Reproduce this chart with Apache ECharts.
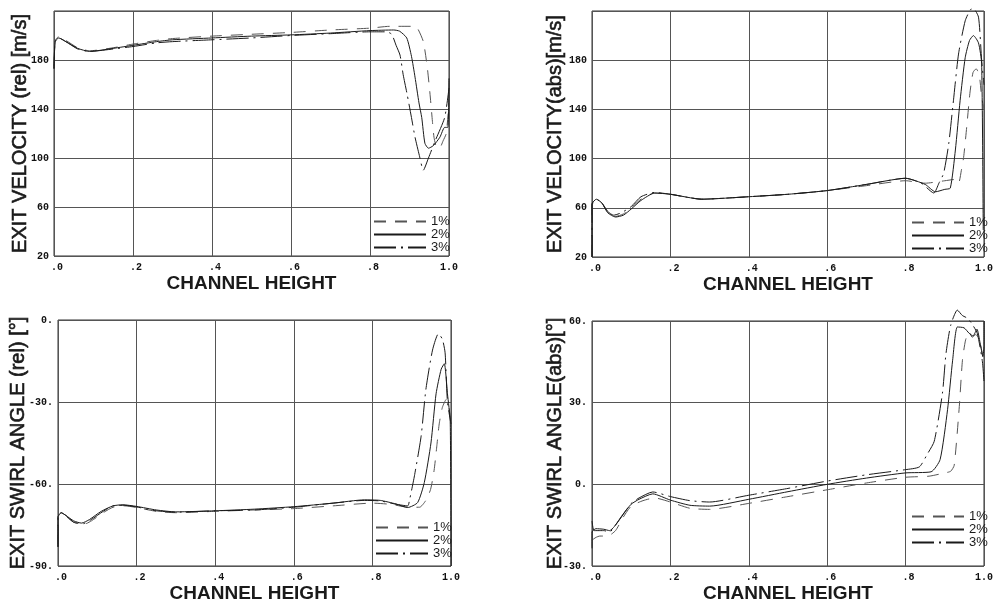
<!DOCTYPE html>
<html>
<head>
<meta charset="utf-8">
<script src="https://cdn.jsdelivr.net/npm/echarts@6/dist/echarts.min.js"></script>
<style>
html,body{margin:0;padding:0;background:#fff;}
#chart{width:996px;height:604px;}
</style>
</head>
<body>
<div id="chart"></div>
<script>
// ---------- tick labels ----------
const xTickValues = [0, 0.2, 0.4, 0.6, 0.8, 1.0];
const xTickLabels = ['.0', '.2', '.4', '.6', '.8', '1.0'];
const velTickValues = [20, 60, 100, 140, 180];
const velTickLabels = ['20', '60', '100', '140', '180'];
const relAngTickValues = [-90, -60, -30, 0];
const relAngTickLabels = ['-90.', '-60.', '-30.', '0.'];
const absAngTickValues = [-30, 0, 30, 60];
const absAngTickLabels = ['-30.', '0.', '30.', '60.'];

const seriesNames = ['1%', '2%', '3%'];
const xAxisTitle = 'CHANNEL HEIGHT';
const yAxisTitles = ['EXIT VELOCITY (rel) [m/s]', 'EXIT VELOCITY(abs)[m/s]', 'EXIT SWIRL ANGLE (rel) [°]', 'EXIT SWIRL ANGLE(abs)[°]'];

// ---------- panel 1: exit velocity (rel) ----------
const velRelX1 = [0, 0.003, 0.012, 0.03, 0.06, 0.09, 0.15, 0.2, 0.26, 0.3, 0.4, 0.5, 0.6, 0.7, 0.8, 0.85, 0.91, 0.92, 0.935, 0.945, 0.952, 0.958, 0.962, 0.968, 0.976, 0.985, 0.993, 1.0];
const velRelY1 = [173, 196, 199, 196, 190, 187.5, 190, 193, 196, 197.5, 199.5, 201, 202.5, 204.5, 206, 207.5, 207.5, 206, 195, 174, 152, 130, 117, 109, 108, 114, 120, 145];
const velRelX2 = [0, 0.003, 0.012, 0.03, 0.06, 0.09, 0.15, 0.2, 0.26, 0.3, 0.4, 0.5, 0.6, 0.7, 0.8, 0.86, 0.875, 0.893, 0.905, 0.914, 0.924, 0.931, 0.939, 0.948, 0.96, 0.977, 0.989, 0.997, 1.0];
const velRelY2 = [173, 195, 198, 195, 189.5, 187, 189.5, 192, 195, 196.5, 198, 199.5, 200.5, 202, 204, 204.5, 203.5, 198, 183, 166, 145, 133, 112, 108, 110, 117, 125, 125, 165];
const velRelX3 = [0, 0.003, 0.012, 0.03, 0.06, 0.09, 0.15, 0.2, 0.26, 0.3, 0.4, 0.5, 0.6, 0.7, 0.8, 0.842, 0.855, 0.866, 0.876, 0.884, 0.894, 0.905, 0.914, 0.925, 0.935, 0.948, 0.965, 0.989, 1.0];
const velRelY3 = [173, 195, 198, 195, 189, 187, 189, 191, 194, 195, 196.5, 198, 200, 201.5, 203, 203, 201, 192, 184, 168, 152, 133, 117, 102, 90, 100, 114, 133, 157];

// ---------- panel 2: exit velocity (abs) ----------
const velAbsX1 = [0, 0, 0.011, 0.025, 0.04, 0.06, 0.08, 0.1, 0.125, 0.16, 0.2, 0.28, 0.4, 0.5, 0.6, 0.7, 0.8, 0.85, 0.9, 0.925, 0.935, 0.942, 0.948, 0.956, 0.964, 0.972, 0.98, 0.988, 0.994, 1.0];
const velAbsY1 = [20, 62, 66.5, 64, 57, 53, 55, 60, 67, 72, 71, 67, 69, 71, 74, 78, 82, 80, 82, 83, 80, 90, 101, 126, 153, 170, 173, 168, 150, 140];
const velAbsX2 = [0, 0, 0.011, 0.025, 0.04, 0.06, 0.08, 0.1, 0.125, 0.16, 0.2, 0.28, 0.4, 0.5, 0.6, 0.7, 0.8, 0.85, 0.876, 0.9, 0.914, 0.927, 0.939, 0.952, 0.963, 0.973, 0.986, 0.994, 0.998];
const velAbsY2 = [20, 63, 67, 64, 56, 52.5, 54, 59, 66, 72, 71, 67, 69, 71, 74, 79, 84, 79, 73, 75, 76, 107, 147, 182, 196, 200, 194, 177, 42];
const velAbsX3 = [0, 0, 0.011, 0.025, 0.04, 0.055, 0.075, 0.1, 0.125, 0.16, 0.2, 0.28, 0.4, 0.5, 0.6, 0.7, 0.8, 0.84, 0.872, 0.885, 0.897, 0.91, 0.922, 0.935, 0.952, 0.965, 0.973, 0.986, 0.994, 1.0];
const velAbsY3 = [20, 63, 67, 64, 57, 54, 56, 61, 69, 72.5, 71, 67, 69, 71, 74, 79, 84, 80, 72, 80, 88, 112, 147, 185, 212, 221, 222, 215, 180, 160];

// ---------- panel 3: exit swirl angle (rel) ----------
const angRelX1 = [0, 0, 0.008, 0.02, 0.04, 0.065, 0.085, 0.115, 0.14, 0.17, 0.2, 0.25, 0.3, 0.4, 0.5, 0.6, 0.7, 0.8, 0.85, 0.89, 0.92, 0.936, 0.948, 0.957, 0.964, 0.97, 0.978, 0.988, 0.996, 1.0];
const angRelY1 = [-83, -72, -70.8, -71.8, -74, -74.8, -73.5, -70.5, -68.5, -68, -68.6, -70, -70.5, -70, -69.5, -69, -68, -67, -67.5, -68.5, -68.5, -66, -62, -55, -46, -38, -32, -29, -33, -38];
const angRelX2 = [0, 0, 0.008, 0.02, 0.04, 0.06, 0.08, 0.11, 0.14, 0.165, 0.2, 0.25, 0.3, 0.4, 0.5, 0.6, 0.7, 0.78, 0.82, 0.86, 0.89, 0.915, 0.932, 0.949, 0.962, 0.975, 0.983, 0.991, 0.998, 1.0];
const angRelY2 = [-83, -72, -70.5, -71.5, -73.5, -74.3, -73, -70, -68, -67.6, -68.2, -69.5, -70.2, -69.8, -69.2, -68.3, -67, -65.8, -66, -67.3, -68.6, -66.8, -59.5, -45, -27, -18, -16, -27, -37, -90];
const angRelX3 = [0, 0, 0.008, 0.02, 0.04, 0.065, 0.085, 0.115, 0.14, 0.17, 0.2, 0.25, 0.3, 0.4, 0.5, 0.6, 0.7, 0.78, 0.82, 0.86, 0.89, 0.894, 0.907, 0.924, 0.936, 0.953, 0.968, 0.978, 0.985, 0.991, 1.0];
const angRelY3 = [-83, -72, -70.5, -71.5, -74, -74.5, -73, -70, -68, -67.8, -68.4, -69.8, -70.3, -69.8, -69.5, -68.5, -67, -66, -66.2, -67.4, -68, -66.2, -57, -42.5, -25.5, -11, -5, -7, -12, -30, -38];

// ---------- panel 4: exit swirl angle (abs) ----------
const angAbsX1 = [0, 0.01, 0.02, 0.04, 0.06, 0.08, 0.1, 0.13, 0.16, 0.2, 0.25, 0.3, 0.4, 0.5, 0.6, 0.7, 0.8, 0.86, 0.9, 0.915, 0.924, 0.937, 0.945, 0.953, 0.962, 0.97, 0.978, 0.986, 0.993, 1.0];
const angAbsY1 = [-20.5, -19.5, -19, -19, -17, -12, -8, -6, -5, -6.5, -8.8, -9.2, -7, -4.5, -2, 0.5, 2.6, 3, 4.2, 4.8, 7, 28.6, 45.6, 53, 56, 54, 55, 54, 50, 45];
const angAbsX2 = [0, 0, 0.01, 0.03, 0.045, 0.057, 0.079, 0.1, 0.12, 0.155, 0.2, 0.25, 0.3, 0.4, 0.5, 0.6, 0.7, 0.8, 0.865, 0.888, 0.907, 0.92, 0.932, 0.949, 0.962, 0.972, 0.982, 0.99, 0.997, 1.0, 1.0];
const angAbsY2 = [-23.5, -17.5, -16.3, -16.5, -17, -15.5, -11, -7.3, -5.5, -3.5, -5.8, -7.7, -8, -5.5, -2.7, 0, 2.3, 4.2, 4.6, 9.1, 27.4, 45.6, 57.8, 57.5, 55.5, 54.5, 57, 52, 47, 51, 60];
const angAbsX3 = [0, 0.005, 0.015, 0.03, 0.045, 0.06, 0.08, 0.1, 0.12, 0.155, 0.2, 0.25, 0.3, 0.4, 0.5, 0.6, 0.7, 0.8, 0.835, 0.855, 0.873, 0.894, 0.903, 0.915, 0.932, 0.945, 0.958, 0.97, 0.983, 0.996, 1.0];
const angAbsY3 = [-13.5, -17, -17, -17, -17.5, -15, -11, -7, -5, -2.8, -4.5, -6, -6.5, -4, -1.5, 1.2, 3.5, 5.4, 6.4, 11, 15.8, 33.5, 48, 58.4, 64, 62, 61, 58.8, 55.4, 45, 37.7];

// ---------- build ----------
function pairs(xs, ys) { return xs.map((x, i) => [x, ys[i]]); }

const panels = [
  { xs: [velRelX1, velRelX2, velRelX3], ys: [velRelY1, velRelY2, velRelY3], min: 20, max: 220, interval: 40, tv: velTickValues, tl: velTickLabels },
  { xs: [velAbsX1, velAbsX2, velAbsX3], ys: [velAbsY1, velAbsY2, velAbsY3], min: 20, max: 220, interval: 40, tv: velTickValues, tl: velTickLabels },
  { xs: [angRelX1, angRelX2, angRelX3], ys: [angRelY1, angRelY2, angRelY3], min: -90, max: 0, interval: 30, tv: relAngTickValues, tl: relAngTickLabels },
  { xs: [angAbsX1, angAbsX2, angAbsX3], ys: [angAbsY1, angAbsY2, angAbsY3], min: -30, max: 60, interval: 30, tv: absAngTickValues, tl: absAngTickLabels }
];

const grids = [
  { left: 54, top: 11, width: 395, height: 245 },
  { left: 592, top: 11, width: 395, height: 246 },
  { left: 58, top: 320, width: 393, height: 247 },
  { left: 592, top: 321, width: 394, height: 246 }
];
const yNameGaps = [24, 26.5, 29.5, 26.5];
const legendPos = [
  { left: 373, top: 215 },
  { left: 911, top: 216 },
  { left: 375, top: 521 },
  { left: 911, top: 510 }
];

const lineStyles = [
  { type: [12, 9], color: '#555', width: 1 },
  { type: 'solid', color: '#1a1a1a', width: 1 },
  { type: [22, 5, 2, 5], color: '#1a1a1a', width: 1 }
];

const monoFont = 'Liberation Mono';
const sansFont = 'Liberation Sans';

const option = {
  animation: false,
  backgroundColor: '#ffffff',
  grid: grids.map(g => Object.assign({ show: true, borderColor: '#333', borderWidth: 1, backgroundColor: 'transparent', containLabel: false }, g)),
  xAxis: grids.map((g, i) => ({
    type: 'value', gridIndex: i, min: 0, max: 1, interval: 0.2,
    axisLine: { show: false }, axisTick: { show: false },
    splitLine: { show: true, lineStyle: { color: '#555', width: 1 } },
    axisLabel: {
      margin: 6, fontFamily: monoFont, fontSize: 10, fontWeight: 'bold', color: '#111',
      formatter: v => {
        const k = xTickValues.findIndex(t => Math.abs(t - v) < 1e-6);
        if (k < 0) return '';
        const s = xTickLabels[k];
        return s.length === 2 ? ' ' + s : s;
      }
    },
    name: xAxisTitle, nameLocation: 'middle', nameGap: 18, nameMoveOverlap: false,
    nameTextStyle: { fontFamily: sansFont, fontSize: 19, fontWeight: 'bold', color: '#1a1a1a' }
  })),
  yAxis: panels.map((p, i) => ({
    type: 'value', gridIndex: i, min: p.min, max: p.max, interval: p.interval,
    axisLine: { show: false }, axisTick: { show: false },
    splitLine: { show: true, lineStyle: { color: '#555', width: 1 } },
    axisLabel: {
      margin: 5, fontFamily: monoFont, fontSize: 10, fontWeight: 'bold', color: '#111',
      formatter: v => {
        const k = p.tv.findIndex(t => Math.abs(t - v) < 1e-6);
        return k < 0 ? '' : p.tl[k];
      }
    },
    name: yAxisTitles[i], nameLocation: 'middle', nameGap: yNameGaps[i], nameRotate: 90, nameMoveOverlap: false,
    nameTextStyle: { fontFamily: sansFont, fontSize: 20, color: '#1a1a1a', textBorderColor: '#1a1a1a', textBorderWidth: 0.6 }
  })),
  legend: legendPos.map(lp => ({
    data: seriesNames, orient: 'vertical', left: lp.left, top: lp.top,
    itemWidth: 52, itemHeight: 10, itemGap: 0, selectedMode: false, padding: 0,
    itemStyle: { color: 'rgba(0,0,0,0)', borderWidth: 0, opacity: 0 },
    textStyle: { fontFamily: sansFont, fontSize: 13, lineHeight: 13, color: '#1a1a1a' }
  })),
  series: []
};

panels.forEach((p, i) => {
  seriesNames.forEach((name, j) => {
    option.series.push({
      type: 'line', name: name, xAxisIndex: i, yAxisIndex: i,
      data: pairs(p.xs[j], p.ys[j]),
      showSymbol: false, symbol: 'none', smooth: 0.2, clip: false,
      lineStyle: lineStyles[j], itemStyle: { color: lineStyles[j].color }
    });
  });
});

const chart = echarts.init(document.getElementById('chart'), null, { renderer: 'canvas' });
chart.setOption(option);
</script>
</body>
</html>
